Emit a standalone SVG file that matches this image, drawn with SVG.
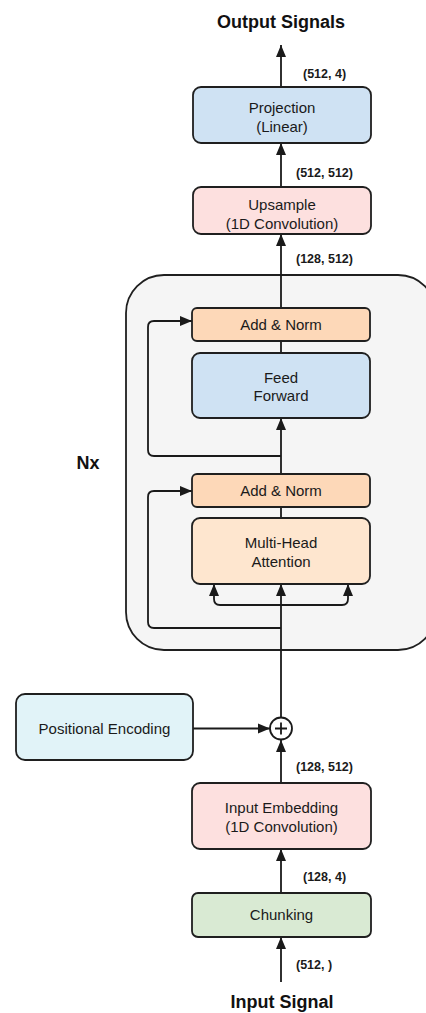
<svg xmlns="http://www.w3.org/2000/svg" width="426" height="1013" viewBox="0 0 426 1013">
<defs>
<marker id="arr" markerUnits="userSpaceOnUse" markerWidth="12" markerHeight="12" viewBox="0 0 12 12" refX="12" refY="6" orient="auto">
<path d="M0,1 L12,6 L0,11 z" fill="#1a1a1a"/>
</marker>
</defs>
<style>
.box{stroke:#1f1f1f;stroke-width:1.8}
.t{font-family:"Liberation Sans",Arial,sans-serif;font-size:15px;fill:#1a1a1a;text-anchor:middle}
.lbl{font-family:"Liberation Sans",Arial,sans-serif;font-size:12.5px;font-weight:bold;fill:#1a1a1a}
.title{font-family:"Liberation Sans",Arial,sans-serif;font-size:18px;font-weight:bold;fill:#111;text-anchor:middle}
.e{fill:none;stroke:#1a1a1a;stroke-width:1.8}
.blue{fill:#cfe2f3}.pink{fill:#fde0df}.peach{fill:#fdd8b8}.lpeach{fill:#fee6cf}.cyan{fill:#e1f3f8}.green{fill:#d9ead3}
</style>
<rect width="426" height="1013" fill="#ffffff"/>
<g id="container">
<rect x="126" y="275" width="310" height="375" rx="38" fill="#f5f5f5" stroke="#1f1f1f" stroke-width="1.8"/>
<text class="title" x="88" y="469">Nx</text>
</g>
<g id="connectors">
<path class="e" d="M281,87 V45" marker-end="url(#arr)"/>
<path class="e" d="M281,187 V143" marker-end="url(#arr)"/>
<path class="e" d="M281,308 V234" marker-end="url(#arr)"/>
<path class="e" d="M281,341 V353"/>
<path class="e" d="M281,474 V418" marker-end="url(#arr)"/>
<path class="e" d="M281,456 H154 Q148,456 148,450 V327 Q148,321 154,321 H192" marker-end="url(#arr)"/>
<path class="e" d="M281,507 V518"/>
<path class="e" d="M281,628 H154 Q148,628 148,622 V497 Q148,491 154,491 H192" marker-end="url(#arr)"/>
<path class="e" d="M281,717 V584" marker-end="url(#arr)"/>
<path class="e" d="M281,605 H220 Q214,605 214,599 V584" marker-end="url(#arr)"/>
<path class="e" d="M281,605 H342 Q348,605 348,599 V584" marker-end="url(#arr)"/>
<path class="e" d="M193,728.5 H270" marker-end="url(#arr)"/>
<path class="e" d="M281,783 V740" marker-end="url(#arr)"/>
<path class="e" d="M281,893 V849" marker-end="url(#arr)"/>
<path class="e" d="M281,982 V937" marker-end="url(#arr)"/>
</g>
<g id="output"><text class="title" x="281" y="28">Output Signals</text></g>
<g id="labels">
<text class="lbl" x="303" y="78">(512, 4)</text>
<text class="lbl" x="296" y="177">(512, 512)</text>
<text class="lbl" x="296" y="263">(128, 512)</text>
<text class="lbl" x="296" y="771">(128, 512)</text>
<text class="lbl" x="303" y="881">(128, 4)</text>
<text class="lbl" x="296" y="969">(512, )</text>
</g>
<g id="projection">
<rect class="box blue" x="193" y="87" width="178" height="56" rx="8"/>
<text class="t" x="282" y="112.5">Projection</text>
<text class="t" x="282" y="131.5">(Linear)</text>
</g>
<g id="upsample">
<rect class="box pink" x="193" y="187" width="178" height="47" rx="8"/>
<text class="t" x="282" y="210">Upsample</text>
<text class="t" x="282" y="229">(1D Convolution)</text>
</g>
<g id="addnorm1">
<rect class="box peach" x="192" y="308" width="178" height="33" rx="5"/>
<text class="t" x="281" y="330">Add &amp; Norm</text>
</g>
<g id="feedforward">
<rect class="box blue" x="192" y="353" width="178" height="65" rx="8"/>
<text class="t" x="281" y="383">Feed</text>
<text class="t" x="281" y="401">Forward</text>
</g>
<g id="addnorm2">
<rect class="box peach" x="192" y="474" width="178" height="33" rx="5"/>
<text class="t" x="281" y="496">Add &amp; Norm</text>
</g>
<g id="mha">
<rect class="box lpeach" x="192" y="518" width="178" height="66" rx="8"/>
<text class="t" x="281" y="548">Multi-Head</text>
<text class="t" x="281" y="567">Attention</text>
</g>
<g id="plus">
<circle cx="281" cy="728.5" r="11" fill="#ffffff" stroke="#1a1a1a" stroke-width="1.8"/>
<path d="M275,728.5 H287 M281,722.5 V734.5" stroke="#1a1a1a" stroke-width="1.8"/>
</g>
<g id="posenc">
<rect class="box cyan" x="16" y="694" width="177" height="66" rx="9"/>
<text class="t" x="104.5" y="733.5">Positional Encoding</text>
</g>
<g id="inputembedding">
<rect class="box pink" x="192" y="783" width="179" height="66" rx="8"/>
<text class="t" x="281.5" y="813">Input Embedding</text>
<text class="t" x="281.5" y="832">(1D Convolution)</text>
</g>
<g id="chunking">
<rect class="box green" x="192" y="893" width="179" height="44" rx="6"/>
<text class="t" x="281.5" y="920">Chunking</text>
</g>
<g id="input"><text class="title" x="282" y="1008">Input Signal</text></g>
</svg>
